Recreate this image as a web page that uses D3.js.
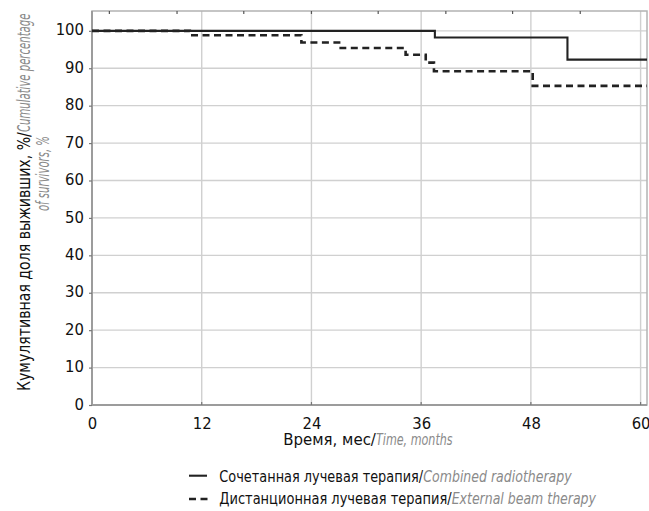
<!DOCTYPE html>
<html>
<head>
<meta charset="utf-8">
<script src="https://cdn.jsdelivr.net/npm/d3@7"></script>
<style>
  html, body { margin: 0; padding: 0; background: #fff; }
  svg { display: block; }
</style>
</head>
<body>
<script>
// Follow-up time axis (months) and survival axis (%)
const xTicks = [0, 12, 24, 36, 48, 60];
const yTicks = [0, 10, 20, 30, 40, 50, 60, 70, 80, 90, 100];
const topTicks = [1.9, 9.3, 16.6, 24, 31.3, 38.7, 46.0, 53.4];
const xDomain = [0, 60.7];
const yDomain = [0, 105.3];

// Kaplan–Meier steps: event times and survival after each step
const combinedTimes = [0, 37.5, 52.0];
const combinedSurvival = [100, 98.2, 92.3];
const externalTimes = [0, 10.7, 22.9, 27.2, 34.3, 36.5, 37.4, 48.2];
const externalSurvival = [100, 98.8, 96.9, 95.4, 93.6, 91.5, 89.2, 85.3];

// Labels (Russian / English)
const seriesRu = ["Сочетанная лучевая терапия/", "Дистанционная лучевая терапия/"];
const seriesEn = ["Combined radiotherapy", "External beam therapy"];
const xTitleRu = "Время, мес/";
const xTitleEn = "Time, months";
const yTitleLine1Ru = "Кумулятивная доля выживших, %/";
const yTitleLine1En = "Cumulative percentage";
const yTitleLine2En = "of survivors, %";

const W = 649, H = 511;
const FONT = "'Liberation Sans Narrow','DejaVu Sans Condensed','DejaVu Sans',sans-serif";
const RU_COLOR = "#111";
const EN_COLOR = "#8a8a8a";

const svg = d3.select("body").append("svg")
  .attr("width", W).attr("height", H)
  .style("font-family", FONT)
  .style("font-stretch", "condensed");

const x = d3.scaleLinear().domain(xDomain).range([92, 647]);
const y = d3.scaleLinear().domain(yDomain).range([405, 11]);

// gridlines
const grid = svg.append("g").attr("stroke", "#d0d0d0").attr("stroke-width", 1.4);
grid.selectAll("line.h").data(yTicks.filter(v => v > 0)).join("line")
  .attr("x1", x(xDomain[0])).attr("x2", x(xDomain[1]))
  .attr("y1", d => y(d)).attr("y2", d => y(d));
grid.selectAll("line.v").data(xTicks.filter(v => v > 0)).join("line")
  .attr("y1", y(yDomain[0])).attr("y2", y(yDomain[1]))
  .attr("x1", d => x(d)).attr("x2", d => x(d));

// frame
svg.append("rect")
  .attr("x", x(xDomain[0])).attr("y", y(yDomain[1]))
  .attr("width", x(xDomain[1]) - x(xDomain[0]))
  .attr("height", y(yDomain[0]) - y(yDomain[1]))
  .attr("fill", "none").attr("stroke", "#b3b3b3").attr("stroke-width", 1.5);

// axes
const yAxis = d3.axisLeft(y).tickValues(yTicks).tickSize(3).tickPadding(5).tickFormat(d3.format("d"));
const xAxis = d3.axisBottom(x).tickValues(xTicks).tickSize(0).tickPadding(12).tickFormat(d3.format("d"));

const gy = svg.append("g").attr("transform", `translate(${x(0)},0)`).call(yAxis);
const gx = svg.append("g").attr("transform", `translate(0,${y(0)})`).call(xAxis);
[gx, gy].forEach(g => {
  g.select(".domain").attr("stroke", "#9c9c9c").attr("stroke-width", 2);
  g.selectAll(".tick line").attr("stroke", "#777").attr("stroke-width", 1.2);
  g.selectAll(".tick text").attr("fill", "#111")
    .style("font-size", "16.5px").style("font-family", FONT).style("font-stretch", "condensed");
});
gy.selectAll(".tick text").attr("dy", "0.25em");
gy.select(".domain").attr("d", `M0,${y(yDomain[1])}V${y(0)}`);
gx.select(".domain").attr("d", `M${x(xDomain[0])},0H${x(xDomain[1])}`);

// small ticks hanging from the top frame
svg.append("g").selectAll("line").data(topTicks).join("line")
  .attr("x1", d => x(d)).attr("x2", d => x(d))
  .attr("y1", y(yDomain[1])).attr("y2", y(yDomain[1]) + 3)
  .attr("stroke", "#555").attr("stroke-width", 1.2);

// bottom ticks at the grid positions
svg.append("g").selectAll("line").data(xTicks.filter(v => v > 0)).join("line")
  .attr("x1", d => x(d)).attr("x2", d => x(d))
  .attr("y1", y(0) - 3).attr("y2", y(0))
  .attr("stroke", "#777").attr("stroke-width", 1.2);

// survival curves
function steps(times, surv) {
  const pts = times.map((t, i) => [t, surv[i]]);
  pts.push([xDomain[1], surv[surv.length - 1]]);
  return pts;
}
const line = d3.line().x(d => x(d[0])).y(d => y(d[1])).curve(d3.curveStepAfter);

svg.append("path").datum(steps(externalTimes, externalSurvival))
  .attr("d", line).attr("fill", "none")
  .attr("stroke", "#222").attr("stroke-width", 2.6)
  .attr("stroke-dasharray", "7,4.5");
svg.append("path").datum(steps(combinedTimes, combinedSurvival))
  .attr("d", line).attr("fill", "none")
  .attr("stroke", "#222").attr("stroke-width", 2.1);

// text piece squeezed horizontally to a given width (condensed type)
function piece(g, str, x0, y0, width, size, italic) {
  const t = g.append("text")
    .attr("x", x0).attr("y", y0)
    .attr("fill", italic ? EN_COLOR : RU_COLOR)
    .style("font-size", size + "px")
    .style("font-style", italic ? "italic" : "normal")
    .text(str);
  const natural = t.node().getComputedTextLength();
  const s = width / natural;
  t.attr("transform", `translate(${x0},0) scale(${s},1) translate(${-x0},0)`);
  return { node: t, scale: s, natural };
}
// Russian part followed by the grey italic English part
function twoTone(g, ru, en, x0, y0, wRu, wEn, size) {
  piece(g, ru, x0, y0, wRu, size, false);
  piece(g, en, x0 + wRu, y0, wEn, size, true);
}

// x-axis title
twoTone(svg, xTitleRu, xTitleEn, 283.3, 445.3, 92.7, 76.7, 15.5);

// y-axis title, rotated to read bottom-to-top; second line keeps the
// same squeeze as the English part of the first line
const yt = svg.append("g").attr("transform", "rotate(-90)");
piece(yt, yTitleLine1Ru, -391, 30, 259, 17, false);
const en1 = piece(yt, yTitleLine1En, -132, 30, 118.5, 17, true);
const probe = yt.append("text").style("font-size", "17px").style("font-style", "italic").text(yTitleLine2En);
const w2 = en1.scale * probe.node().getComputedTextLength();
probe.remove();
piece(yt, yTitleLine2En, -136 - w2, 49, w2, 17, true);

// legend
const legend = svg.append("g");
legend.append("line")
  .attr("x1", 189).attr("x2", 207).attr("y1", 475.7).attr("y2", 475.7)
  .attr("stroke", "#222").attr("stroke-width", 2.1);
legend.append("line")
  .attr("x1", 189).attr("x2", 208).attr("y1", 499).attr("y2", 499)
  .attr("stroke", "#222").attr("stroke-width", 2.6).attr("stroke-dasharray", "7,4.5");
twoTone(legend, seriesRu[0], seriesEn[0], 219.3, 481.7, 204, 148.4, 16);
twoTone(legend, seriesRu[1], seriesEn[1], 219.3, 504.3, 232.4, 144.3, 16);
</script>
</body>
</html>
